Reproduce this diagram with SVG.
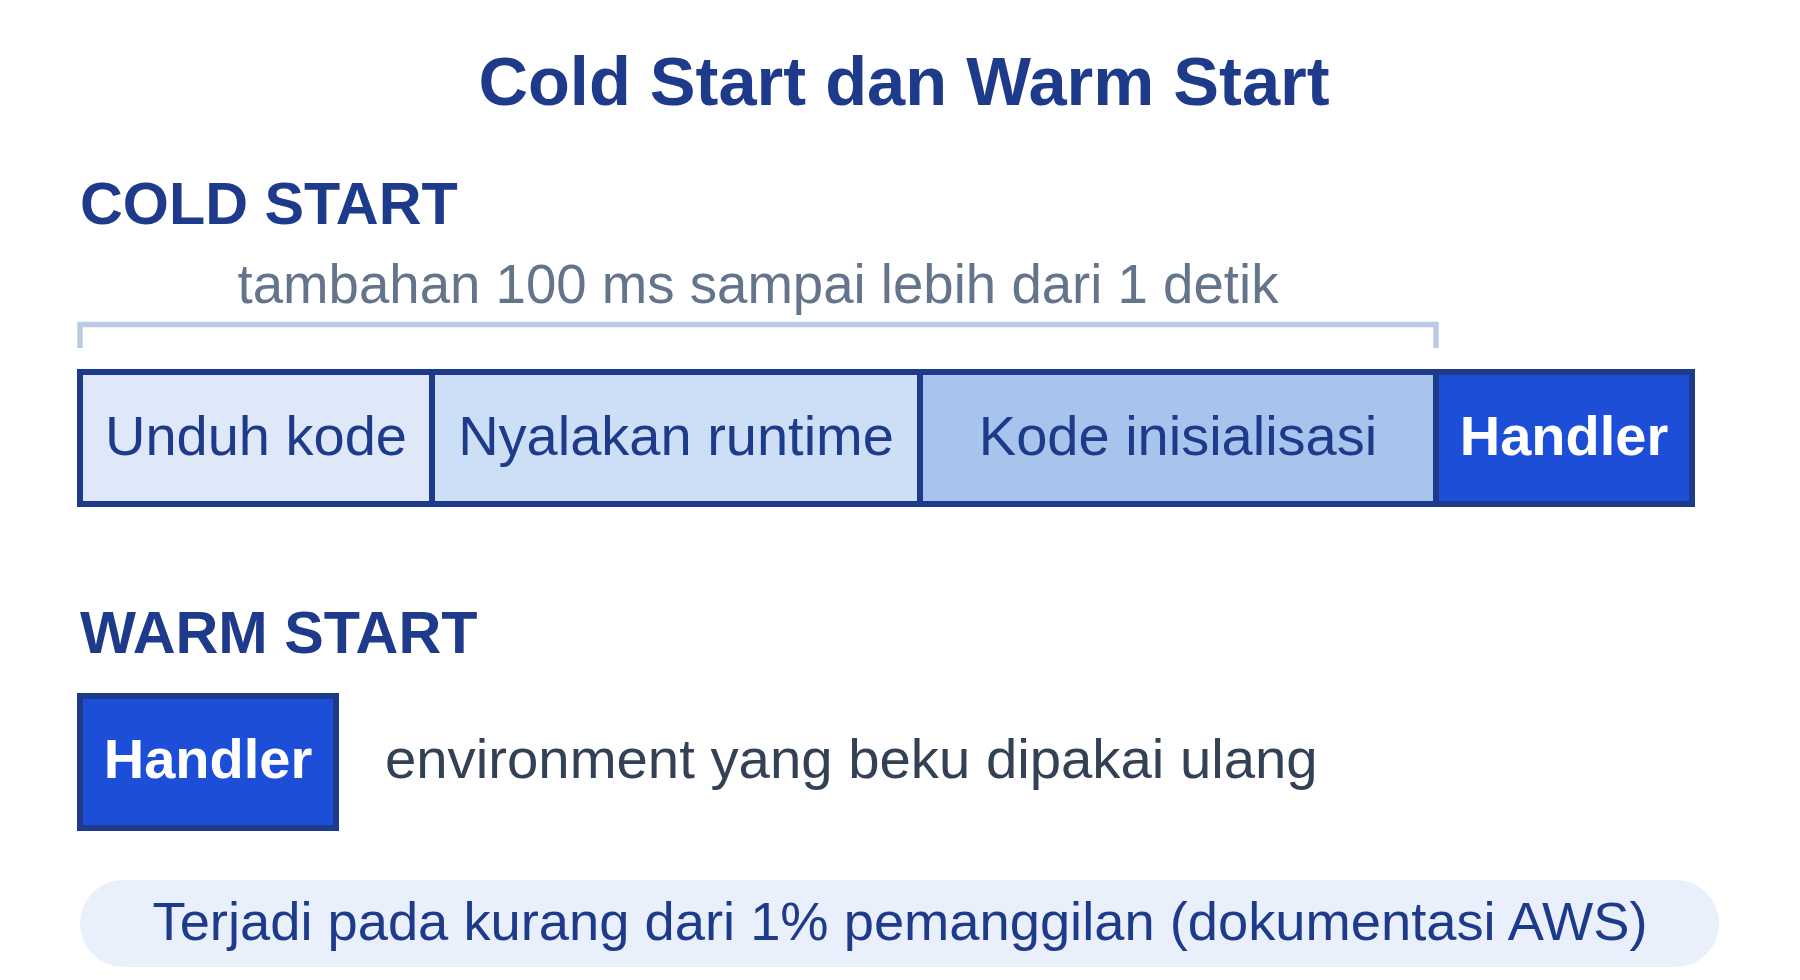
<svg xmlns="http://www.w3.org/2000/svg" width="1800" height="980" viewBox="0 0 1800 980">
  <style>
    text { font-family: "Liberation Sans", Arial, Helvetica, sans-serif; }
    .title { font-size: 68.6px; font-weight: bold; fill: #1e3a8a; }
    .heading { font-size: 59.3px; font-weight: bold; fill: #1e3a8a; }
    .sub { font-size: 54.6px; fill: #64748b; }
    .seg { stroke: #1e3a8a; stroke-width: 6; }
    .segtxt { font-size: 56px; fill: #1e3a8a; text-anchor: middle; }
    .handlertxt { font-size: 56px; font-weight: bold; fill: #ffffff; text-anchor: middle; }
    .note { font-size: 56.3px; fill: #334155; }
    .foot { font-size: 54.3px; fill: #1e3a8a; text-anchor: middle; }
  </style>
  <rect width="1800" height="980" fill="#ffffff"/>

  <text class="title" x="904" y="105" text-anchor="middle">Cold Start dan Warm Start</text>

  <g id="cold-start">
    <text class="heading" x="80" y="224">COLD START</text>
    <text class="sub" x="758" y="303" text-anchor="middle">tambahan 100 ms sampai lebih dari 1 detik</text>
  </g>

  <g id="connectors">
    <path id="span-bracket" d="M80,348 V324.5 H1436 V348" fill="none" stroke="#bccbe5" stroke-width="5.5"/>
  </g>

  <g id="unduh-kode">
    <rect class="seg" x="80" y="372" width="352" height="132" fill="#dfe8f8"/>
    <text class="segtxt" x="256" y="455">Unduh kode</text>
  </g>
  <g id="nyalakan-runtime">
    <rect class="seg" x="432" y="372" width="488" height="132" fill="#cddff6"/>
    <text class="segtxt" x="676" y="455">Nyalakan runtime</text>
  </g>
  <g id="kode-inisialisasi">
    <rect class="seg" x="920" y="372" width="516" height="132" fill="#a9c4ec"/>
    <text class="segtxt" x="1178" y="455">Kode inisialisasi</text>
  </g>
  <g id="handler-cold">
    <rect class="seg" x="1436" y="372" width="256" height="132" fill="#1d4ed8"/>
    <text class="handlertxt" x="1564" y="455">Handler</text>
  </g>

  <g id="warm-start">
    <text class="heading" x="80" y="653">WARM START</text>
  </g>
  <g id="handler-warm">
    <rect class="seg" x="80" y="696" width="256" height="132" fill="#1d4ed8"/>
    <text class="handlertxt" x="208" y="778">Handler</text>
  </g>
  <g id="warm-note">
    <text class="note" x="385" y="778">environment yang beku dipakai ulang</text>
  </g>

  <g id="footer">
    <rect x="80" y="880" width="1639" height="87" rx="43.5" ry="43.5" fill="#e9f0fb"/>
    <text class="foot" x="900" y="940">Terjadi pada kurang dari 1% pemanggilan (dokumentasi AWS)</text>
  </g>
</svg>
